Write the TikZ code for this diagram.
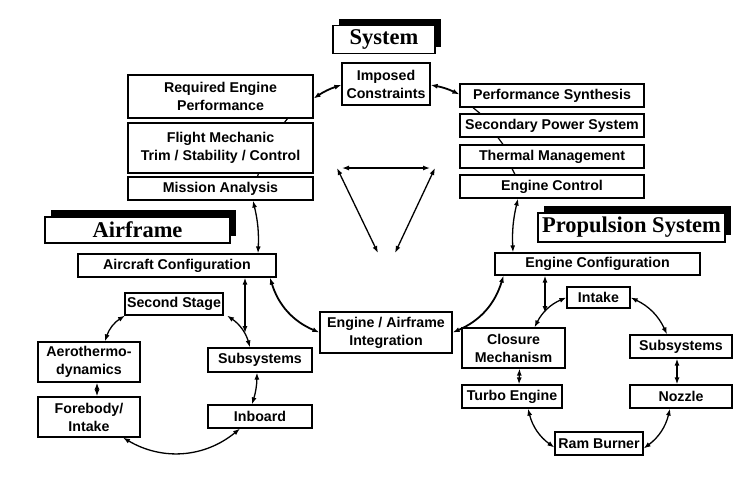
\documentclass[tikz,border=0pt]{standalone}
\usepackage{fontspec}
\setmainfont{Liberation Serif}
\newfontfamily\boxfont{Liberation Sans}
\usetikzlibrary{arrows.meta,shadows}

\tikzset{
  box/.style={draw, line width=1.2pt, fill=white, align=center, inner sep=1pt,
    font=\boxfont\bfseries\fontsize{14.2}{18}\selectfont},
  title/.style={draw, line width=1.3pt, fill=white, inner sep=1pt,
    font=\bfseries\fontsize{22.5}{24}\selectfont,
    drop shadow={shadow xshift=6pt, shadow yshift=7pt, fill=black, opacity=1}},
  link/.style={line width=1.3pt, {Latex[length=7pt,width=5pt]}-{Latex[length=7pt,width=5pt]}},
  mainlink/.style={link, line width=1.8pt},
  tick/.style={line width=1.2pt},
}

\begin{document}
\begin{tikzpicture}[x=1pt, y=-1pt]
  \useasboundingbox (0,0) rectangle (741,477);

  % titles
  \node[title, minimum width=102pt, minimum height=28pt] (systitle) at (384,39.5) {System};
  \node[title, minimum width=185pt, minimum height=26pt] (airtitle) at (137.5,230) {Airframe};
  \node[title, minimum width=187pt, minimum height=29pt] (proptitle) at (631.5,227.5) {Propulsion System};

  % system
  \node[box, minimum width=88pt, minimum height=42pt] (imposed) at (386,84) {Imposed\\Constraints};
  \node[box, minimum width=185pt, minimum height=43pt] (reqperf) at (220.5,96.5) {Required Engine\\Performance};
  \node[box, minimum width=185pt, minimum height=50pt] (flight) at (220.5,148) {Flight Mechanic\\Trim / Stability / Control};
  \node[box, minimum width=185pt, minimum height=23pt] (mission) at (220.5,188.5) {Mission Analysis};
  \node[box, minimum width=184pt, minimum height=23pt] (perfsyn) at (552,95.5) {Performance Synthesis};
  \node[box, minimum width=184pt, minimum height=23pt] (secpower) at (552,125.5) {Secondary Power System};
  \node[box, minimum width=184pt, minimum height=23pt] (thermal) at (552,156.5) {Thermal Management};
  \node[box, minimum width=184pt, minimum height=23pt] (engctrl) at (552,186.5) {Engine Control};
  \node[box, minimum width=132pt, minimum height=41pt] (integr) at (386,332.5) {Engine / Airframe\\Integration};

  % airframe
  \node[box, minimum width=198pt, minimum height=23pt] (aircfg) at (177,265.5) {Aircraft Configuration};
  \node[box, minimum width=98pt, minimum height=22pt] (second) at (174,304) {Second Stage};
  \node[box, minimum width=102pt, minimum height=40pt] (aero) at (89,362) {Aerothermo-\\dynamics};
  \node[box, minimum width=102pt, minimum height=40pt] (forebody) at (89,417) {Forebody/\\Intake};
  \node[box, minimum width=104pt, minimum height=24pt] (subsysl) at (260,360) {Subsystems};
  \node[box, minimum width=104pt, minimum height=23pt] (inboard) at (260,416.5) {Inboard};

  % propulsion
  \node[box, minimum width=205pt, minimum height=22pt] (engcfg) at (597.5,264) {Engine Configuration};
  \node[box, minimum width=63pt, minimum height=21pt] (intake) at (598.5,297.5) {Intake};
  \node[box, minimum width=103pt, minimum height=40pt] (closure) at (513.5,348) {Closure\\Mechanism};
  \node[box, minimum width=102pt, minimum height=23pt] (subsysr) at (681,346.5) {Subsystems};
  \node[box, minimum width=100pt, minimum height=23pt] (turbo) at (512,396.5) {Turbo Engine};
  \node[box, minimum width=102pt, minimum height=23pt] (nozzle) at (681,396.5) {Nozzle};
  \node[box, minimum width=88pt, minimum height=23pt] (ramb) at (599,443.5) {Ram Burner};

  % triangle
  \coordinate (triL) at (337,168);
  \coordinate (triR) at (435,168);
  \coordinate (triBL) at (378,253);
  \coordinate (triBR) at (395,253);
  \draw[link] ([xshift=5pt]triL) -- ([xshift=-5pt]triR);
  \draw[link] (triL) -- (triBL);
  \draw[link] (triR) -- (triBR);

  % stacked boxes
  \draw[tick] ([xshift=67pt]reqperf.south) -- ([xshift=64pt]flight.north);
  \draw[tick] ([xshift=38pt]flight.south) -- ([xshift=37pt]mission.north);
  \draw[tick] ([xshift=-79pt]perfsyn.south) -- ([xshift=-72pt]secpower.north);
  \draw[tick] ([xshift=-54pt]secpower.south) -- ([xshift=-49pt]thermal.north);
  \draw[tick] ([xshift=-40pt]thermal.south) -- ([xshift=-37pt]engctrl.north);

  % system links
  \draw[mainlink] ([yshift=-1pt]imposed.west) to[bend right=8] ([yshift=-2pt]reqperf.east);
  \draw[mainlink] ([yshift=-1pt]imposed.east) to[bend left=8] ([yshift=1pt]perfsyn.west);
  \draw[link] ([xshift=32.5pt]mission.south) to[bend left=8] ([xshift=81pt]aircfg.north);
  \draw[link] ([xshift=-34pt]engctrl.south) to[bend right=8] ([xshift=-84.5pt]engcfg.north);
  \draw[mainlink] ([xshift=93pt]aircfg.south) to[bend right=25] (integr.west);
  \draw[mainlink] ([xshift=-94pt]engcfg.south) to[bend left=25] (integr.east);

  % airframe links
  \coordinate (airarc) at (245,333);
  \draw[link] ([xshift=68pt]aircfg.south) -- (airarc);
  \draw[link] ([xshift=-49pt]second.south) to[bend right=20] ([xshift=16pt]aero.north);
  \draw[link] ([xshift=53pt]second.south) to[bend left=20] ([xshift=-10pt]subsysl.north);
  \draw[link] ([xshift=8pt]aero.south) -- ([xshift=8pt]forebody.north);
  \draw[link] ([xshift=-3pt]subsysl.south) to[bend left=8] ([xshift=-8pt]inboard.north);
  \draw[link] ([xshift=34pt]forebody.south) to[bend right=35] ([xshift=-20pt]inboard.south);

  % propulsion links
  \coordinate (proparc) at (545,313);
  \draw[link] ([xshift=-52.5pt]engcfg.south) -- (proparc);
  \draw[link] (intake.west) to[bend right=20] ([xshift=21pt]closure.north);
  \draw[link] (intake.east) to[bend left=20] ([xshift=-14pt]subsysr.north);
  \draw[link] ([xshift=-4pt]subsysr.south) -- ([xshift=-4pt]nozzle.north);
  \draw[link] ([xshift=6pt]closure.south) -- ([xshift=7pt]turbo.north);
  \draw[link] ([xshift=16pt]turbo.south) to[bend right=20] ([yshift=-4pt]ramb.west);
  \draw[link] ([xshift=-11pt]nozzle.south) to[bend left=20] ([yshift=-5pt]ramb.east);
\end{tikzpicture}
\end{document}
